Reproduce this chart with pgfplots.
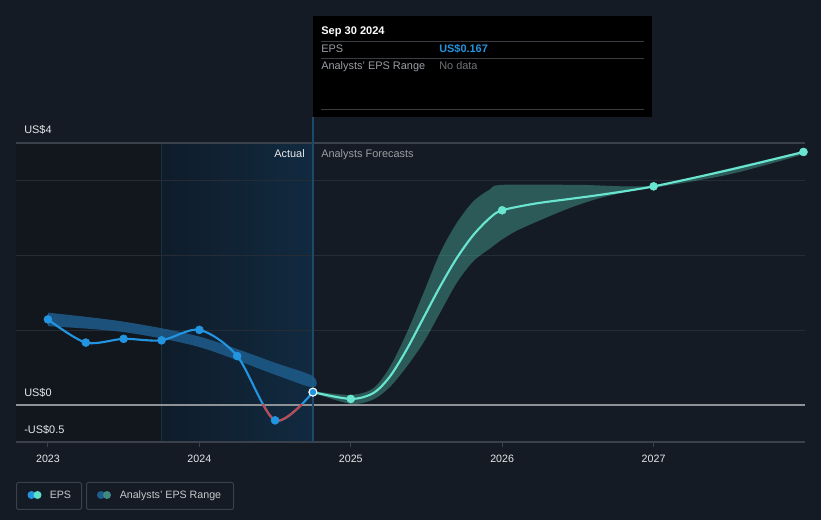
\documentclass[border=0pt]{standalone}
\usepackage{fontspec}
\setmainfont{Liberation Sans}
\usepackage{pgfplots}
\pgfplotsset{compat=1.18}

\definecolor{bg}{HTML}{151B24}
\definecolor{bgdark}{HTML}{12161D}
\definecolor{hlleft}{HTML}{0F1C2A}
\definecolor{hlright}{HTML}{112A40}
\definecolor{hledge}{HTML}{1C3044}
\definecolor{vline}{HTML}{1D4A6C}
\definecolor{gridc}{HTML}{252C36}
\definecolor{framec}{HTML}{3A414B}
\definecolor{zeroc}{HTML}{8E9398}
\definecolor{epsblue}{HTML}{2394DF}
\definecolor{epsred}{HTML}{C0484F}
\definecolor{fcteal}{HTML}{6AE6D0}
\definecolor{bandteal}{HTML}{5CE1C8}
\definecolor{histband}{HTML}{1E5C8C}
\definecolor{legteal}{HTML}{3F8A80}
\definecolor{tipline}{HTML}{3A3D42}
\definecolor{txtgray}{HTML}{9A9EA3}
\definecolor{txtdim}{HTML}{6F7378}
\definecolor{txtlight}{HTML}{E6E8EA}
\definecolor{legtxt}{HTML}{C5C9CD}

% actual EPS (quarterly)
\pgfplotstableread{
x y
2023.00 1.14
2023.25 0.83
2023.50 0.88
2023.75 0.86
2024.00 1.00
2024.25 0.65
2024.50 -0.21
2024.75 0.167
}\actual

% analysts forecast, annual points (markers)
\pgfplotstableread{
x y
2024.75 0.167
2025.00 0.076
2026.00 2.60
2027.00 2.92
2027.99 3.38
}\forecast

% forecast line
\pgfplotstableread{
x y
2024.75 0.167
2025.00 0.076
2025.15 0.156
2025.26 0.38
2025.37 0.74
2025.48 1.16
2025.59 1.58
2025.70 1.96
2025.81 2.27
2025.92 2.50
2026.00 2.60
2026.22 2.69
2026.44 2.75
2026.66 2.81
2027.00 2.92
2027.50 3.14
2027.99 3.38
}\fcline

% forecast range: upper edge forward, lower edge back
\pgfplotstableread{
x y
2024.75 0.18
2025.00 0.13
2025.15 0.22
2025.26 0.51
2025.37 0.96
2025.48 1.49
2025.59 2.03
2025.70 2.43
2025.81 2.72
2025.92 2.88
2026.00 2.94
2026.50 2.94
2027.00 2.93
2027.50 3.16
2027.99 3.39
2027.99 3.35
2027.50 3.08
2027.00 2.90
2026.86 2.86
2026.64 2.76
2026.42 2.61
2026.12 2.35
2026.00 2.21
2025.92 2.09
2025.81 1.92
2025.70 1.63
2025.59 1.23
2025.48 0.83
2025.37 0.51
2025.26 0.24
2025.15 0.07
2025.00 0.01
2024.75 0.16
}\fcrange

% past estimate band: upper edge forward, lower edge back
\pgfplotstableread{
x y
2023.00 1.23
2023.50 1.11
2024.00 0.91
2024.50 0.56
2024.75 0.38
2024.75 0.23
2024.50 0.40
2024.00 0.77
2023.50 0.97
2023.00 1.05
}\histrange

\pgfplotsset{
  epsaxis/.style={
    at={(12pt,58.5pt)}, anchor=south west,
    scale only axis, width=591.75pt, height=224.25pt,
    xmin=2022.789, xmax=2028.0,
    ymin=-0.5, ymax=3.5,
  }
}

\begin{document}
\begin{tikzpicture}
\fill[bg] (0,0) rectangle (615.75pt,390pt);

% background, grid and frame in pixel coordinates (origin top-left)
\begin{scope}[x=0.75pt, y=-0.75pt, shift={(0pt,390pt)}]
\fill[bgdark] (16,143) rectangle (161,442);
\shade[left color=hlleft, right color=hlright] (161,143) rectangle (313,442);
\draw[hledge, line width=0.6pt] (161,143) -- (161,442);
\draw[gridc, line width=0.9pt] (16,330.25) -- (805,330.25);
\draw[gridc, line width=0.9pt] (16,255.5) -- (805,255.5);
\draw[gridc, line width=0.9pt] (16,180.75) -- (805,180.75);
\draw[framec, line width=0.9pt] (16,143) -- (805,143);
\draw[framec, line width=0.9pt] (16,442) -- (805,442);
\draw[zeroc, line width=1.5pt] (16,405) -- (805,405);
\draw[vline, line width=0.8pt] (313,117) -- (313,442);
\end{scope}

\begin{axis}[
    epsaxis,
    axis line style={draw=none},
    xtick={2023,2024,2025,2026,2027},
    xticklabels={2023,2024,2025,2026,2027},
    x tick label style={font=\fontsize{8}{9}\selectfont, text=txtlight, yshift=-3pt},
    major tick length=3.5pt,
    xtick pos=bottom, tick align=outside,
    tick style={framec, line width=0.75pt},
    ytick=\empty,
]
% bands
\addplot[fill=histband, fill opacity=0.85, draw=none, smooth, tension=0.5] table {\histrange} -- cycle;
\addplot[fill=bandteal, fill opacity=0.32, draw=none, smooth, tension=0.5] table {\fcrange} -- cycle;
% actual line and forecast line
\addplot[epsblue, line width=1.6pt, smooth, tension=0.5] table {\actual};
\addplot[fcteal, line width=1.6pt, smooth, tension=0.5] table {\fcline};
\end{axis}

% red part of the actual line, below zero (zero line at 86.25pt)
\begin{scope}
\clip (0,0) rectangle (615.75pt,86.25pt);
\begin{axis}[epsaxis, hide axis]
\addplot[epsred, line width=1.6pt, smooth, tension=0.5] table {\actual};
\end{axis}
\end{scope}

% markers on top
\begin{axis}[epsaxis, hide axis, clip=false]
\addplot[only marks, mark=*, mark size=3pt, fcteal] table {\forecast};
\addplot[only marks, mark=*, mark size=3pt, epsblue] table {\actual};
\addplot[only marks, mark=*, mark size=3pt, epsblue, mark options={draw=white, line width=0.8pt}]
  coordinates {(2024.75,0.167)};
\end{axis}

% labels, tooltip and legend in pixel coordinates
\begin{scope}[x=0.75pt, y=-0.75pt, shift={(0pt,390pt)}]
\node[anchor=base west, inner sep=0pt, font=\fontsize{8.2}{9}\selectfont, text=txtlight] at (24,134) {US\$4};
\node[anchor=base west, inner sep=0pt, font=\fontsize{8.2}{9}\selectfont, text=txtlight] at (24,397) {US\$0};
\node[anchor=base west, inner sep=0pt, font=\fontsize{8.2}{9}\selectfont, text=txtlight] at (24,434) {-US\$0.5};
\node[anchor=base east, inner sep=0pt, font=\fontsize{8.2}{9}\selectfont, text=txtlight] at (305,158) {Actual};
\node[anchor=base west, inner sep=0pt, font=\fontsize{8.2}{9}\selectfont, text=txtgray] at (321,158) {Analysts Forecasts};

\fill[black] (313,16) rectangle (652,117);
\draw[tipline, line width=0.7pt] (321,41.3) -- (644,41.3);
\draw[tipline, line width=0.7pt] (321,58.3) -- (644,58.3);
\draw[tipline, line width=0.7pt] (321,109) -- (644,109);
\node[anchor=base west, inner sep=0pt, font=\bfseries\fontsize{8.3}{9}\selectfont, text=white] at (321,35) {Sep 30 2024};
\node[anchor=base west, inner sep=0pt, font=\fontsize{8.2}{9}\selectfont, text=txtgray] at (321,53) {EPS};
\node[anchor=base west, inner sep=0pt, font=\bfseries\fontsize{8.2}{9}\selectfont, text=epsblue] at (439,53) {US\$0.167};
\node[anchor=base west, inner sep=0pt, font=\fontsize{8.2}{9}\selectfont, text=txtgray] at (321,69.5) {Analysts' EPS Range};
\node[anchor=base west, inner sep=0pt, font=\fontsize{8.2}{9}\selectfont, text=txtdim] at (439,69.5) {No data};

% legend
\draw[framec, line width=0.75pt, rounded corners=1.5pt] (16.5,482.5) rectangle (81.5,509.5);
\draw[framec, line width=0.75pt, rounded corners=1.5pt] (86.5,482.5) rectangle (233.5,509.5);
\fill[epsblue] (31.5,495) circle (4);
\fill[bandteal] (37.5,495) circle (4);
\fill[histband] (101,495) circle (4);
\fill[legteal] (107,495) circle (4);
\node[anchor=base west, inner sep=0pt, font=\fontsize{8}{9}\selectfont, text=legtxt] at (49.5,499) {EPS};
\node[anchor=base west, inner sep=0pt, font=\fontsize{8}{9}\selectfont, text=legtxt] at (119.5,499) {Analysts' EPS Range};
\end{scope}
\end{tikzpicture}
\end{document}
